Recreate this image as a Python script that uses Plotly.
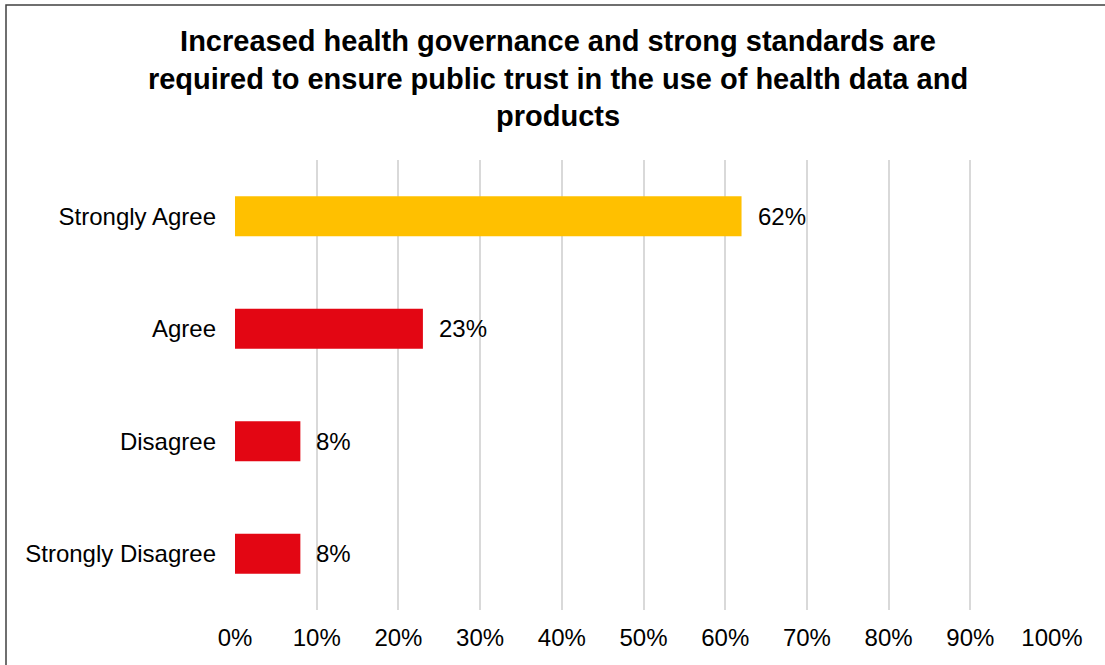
import plotly.graph_objects as go

categories = ["Strongly Agree", "Agree", "Disagree", "Strongly Disagree"]
values = [62, 23, 8, 8]
bar_colors = ["#FFC000", "#E30613", "#E30613", "#E30613"]
tick_vals = [0, 10, 20, 30, 40, 50, 60, 70, 80, 90, 100]
tick_text = [f"{v}%" for v in tick_vals]
title_text = ("Increased health governance and strong standards are<br>"
              "required to ensure public trust in the use of health data and<br>"
              "products")

FONT = "Liberation Sans, Arial, sans-serif"

fig = go.Figure()
fig.add_trace(go.Bar(
    x=values, y=categories, orientation="h",
    marker=dict(color=bar_colors, line=dict(width=0)),
    width=0.356, hoverinfo="skip",
))

for c, v in zip(categories, values):
    fig.add_annotation(x=v, y=c, text=f"{v}%", showarrow=False,
                       xanchor="left", yanchor="middle", xshift=14,
                       font=dict(family=FONT, size=24, color="#000000"))

# outer border
fig.add_shape(type="rect", xref="paper", yref="paper",
              x0=(6 - 235) / 817, x1=(1110 - 235) / 817,
              y0=(610 - 670) / 450, y1=(610 - 5) / 450,
              line=dict(color="#404040", width=1.5), fillcolor="rgba(0,0,0,0)",
              layer="above")

fig.update_layout(
    width=1105, height=665,
    margin=dict(l=235, r=53, t=160, b=55),
    paper_bgcolor="white", plot_bgcolor="white",
    showlegend=False,
    title=dict(text=title_text, x=0.505, xanchor="center", xref="container",
               y=1 - 51 / 665, yanchor="middle", yref="container",
               font=dict(family=FONT, size=29, color="#000000", weight="bold")),
    xaxis=dict(range=[0, 100], tickvals=tick_vals, ticktext=tick_text,
               showgrid=True, gridcolor="#d9d9d9", gridwidth=2,
               zeroline=False, showline=False, ticks="",
               tickfont=dict(family=FONT, size=24, color="#000000"),
               ticklabelstandoff=11, fixedrange=True),
    yaxis=dict(categoryorder="array", categoryarray=categories,
               autorange="reversed", showgrid=False, zeroline=False,
               showline=False, ticks="", ticklabelstandoff=18,
               tickfont=dict(family=FONT, size=24, color="#000000")),
)

fig.write_html("out.html")
